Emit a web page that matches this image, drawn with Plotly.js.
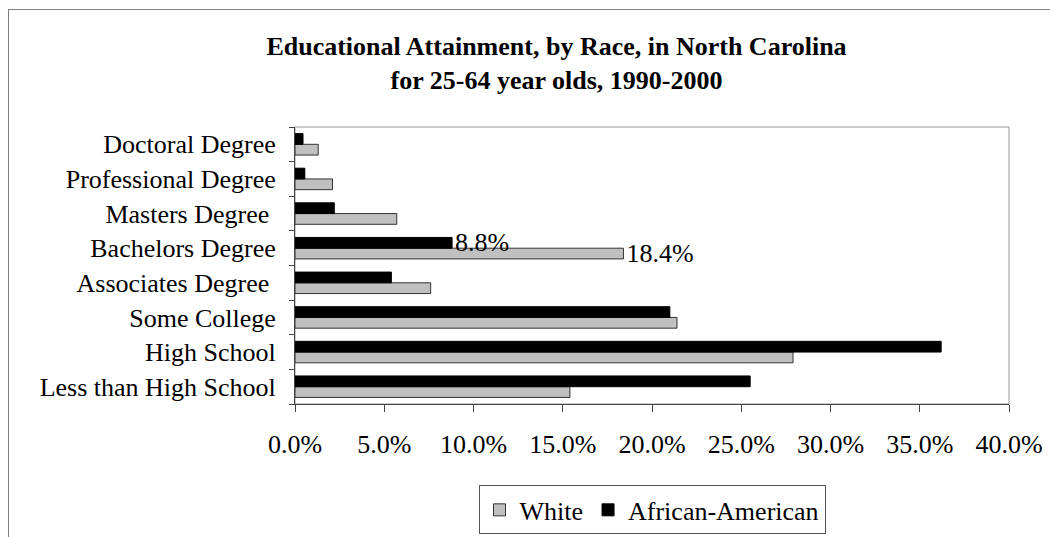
<!DOCTYPE html>
<html>
<head>
<meta charset="utf-8">
<script src="https://cdn.plot.ly/plotly-3.0.1.min.js"></script>
<style>
  html, body { margin: 0; padding: 0; overflow: hidden; background: #fff; }
  #wrap { position: relative; width: 1050px; height: 537px; overflow: hidden; }
  #chart { position: absolute; left: 0; top: 0; width: 1050px; height: 537px; }
  #frame { position: absolute; left: 8px; top: 9px; width: 1100px; height: 600px;
           border: 1px solid #808080; pointer-events: none; }
</style>
</head>
<body>
<div id="wrap">
  <div id="chart"></div>
  <div id="frame"></div>
</div>
<script>
// Categories, bottom to top
const categories = ["Less than High School", "High School", "Some College", "Associates Degree ",
                    "Bachelors Degree", "Masters Degree ", "Professional Degree", "Doctoral Degree"];
const whiteValues = [15.4, 27.9, 21.4, 7.6, 18.4, 5.7, 2.1, 1.3];
const africanAmericanValues = [25.5, 36.2, 21.0, 5.4, 8.8, 2.2, 0.55, 0.45];
const whiteLabels = ["", "", "", "", "18.4%", "", "", ""];
const africanAmericanLabels = ["", "", "", "", "8.8%", "", "", ""];
const xTickValues = [0, 5, 10, 15, 20, 25, 30, 35, 40];
const xTickLabels = ["0.0%", "5.0%", "10.0%", "15.0%", "20.0%", "25.0%", "30.0%", "35.0%", "40.0%"];

const serif = "Liberation Serif, Times New Roman, serif";
const FS = 26;

const traces = [
  {
    type: "bar", orientation: "h", name: "White",
    y: categories, x: whiteValues,
    text: whiteLabels, textposition: "outside", cliponaxis: false,
    constraintext: "none",
    textfont: { family: serif, size: FS, color: "#000" },
    marker: { color: "#C0C0C0", line: { color: "#333", width: 1 } },
    hoverinfo: "x+y"
  },
  {
    type: "bar", orientation: "h", name: "African-American",
    y: categories, x: africanAmericanValues,
    text: africanAmericanLabels, textposition: "outside", cliponaxis: false,
    constraintext: "none",
    textfont: { family: serif, size: FS, color: "#000" },
    marker: { color: "#000000", line: { color: "#000", width: 1 } },
    hoverinfo: "x+y"
  }
];

const layout = {
  width: 1050, height: 537,
  paper_bgcolor: "#fff", plot_bgcolor: "#fff",
  font: { family: serif, size: FS, color: "#000" },
  margin: { l: 295, r: 41, t: 127, b: 133, pad: 0, autoexpand: false },
  title: {
    text: "<b>Educational Attainment, by Race, in North Carolina<br>for 25-64 year olds, 1990-2000</b>",
    font: { family: serif, size: 26, color: "#000" },
    xref: "container", x: 0.53, xanchor: "center",
    yref: "container", y: 0.897, yanchor: "top"
  },
  barmode: "group",
  bargap: 0.38,
  bargroupgap: 0,
  showlegend: true,
  legend: {
    orientation: "h", xref: "paper", x: 0.5, xanchor: "center",
    yref: "container", y: 0.096, yanchor: "top",
    bordercolor: "#555", borderwidth: 1, bgcolor: "#fff",
    font: { family: serif, size: FS, color: "#000" },
    traceorder: "normal", itemwidth: 30
  },
  xaxis: {
    range: [0, 40], tickvals: xTickValues, ticktext: xTickLabels,
    showgrid: false, zeroline: false, automargin: false,
    showline: true, linecolor: "#444", linewidth: 1,
    ticks: "outside", ticklen: 7, tickcolor: "#444",
    ticklabelstandoff: 10,
    tickfont: { family: serif, size: FS, color: "#000" },
    fixedrange: true
  },
  yaxis: {
    type: "category", categoryorder: "array", categoryarray: categories,
    showgrid: false, zeroline: false, automargin: false,
    showline: true, linecolor: "#444", linewidth: 1,
    ticks: "outside", ticklen: 5, tickcolor: "#444", tickson: "boundaries",
    ticklabelstandoff: 13,
    tickfont: { family: serif, size: FS, color: "#000" },
    fixedrange: true
  },
  shapes: [
    { type: "rect", xref: "paper", yref: "paper", x0: 0, x1: 1, y0: 0, y1: 1,
      line: { color: "#999", width: 1 }, layer: "below" }
  ]
};

Plotly.newPlot("chart", traces, layout, { displayModeBar: false, staticPlot: true });
</script>
</body>
</html>
